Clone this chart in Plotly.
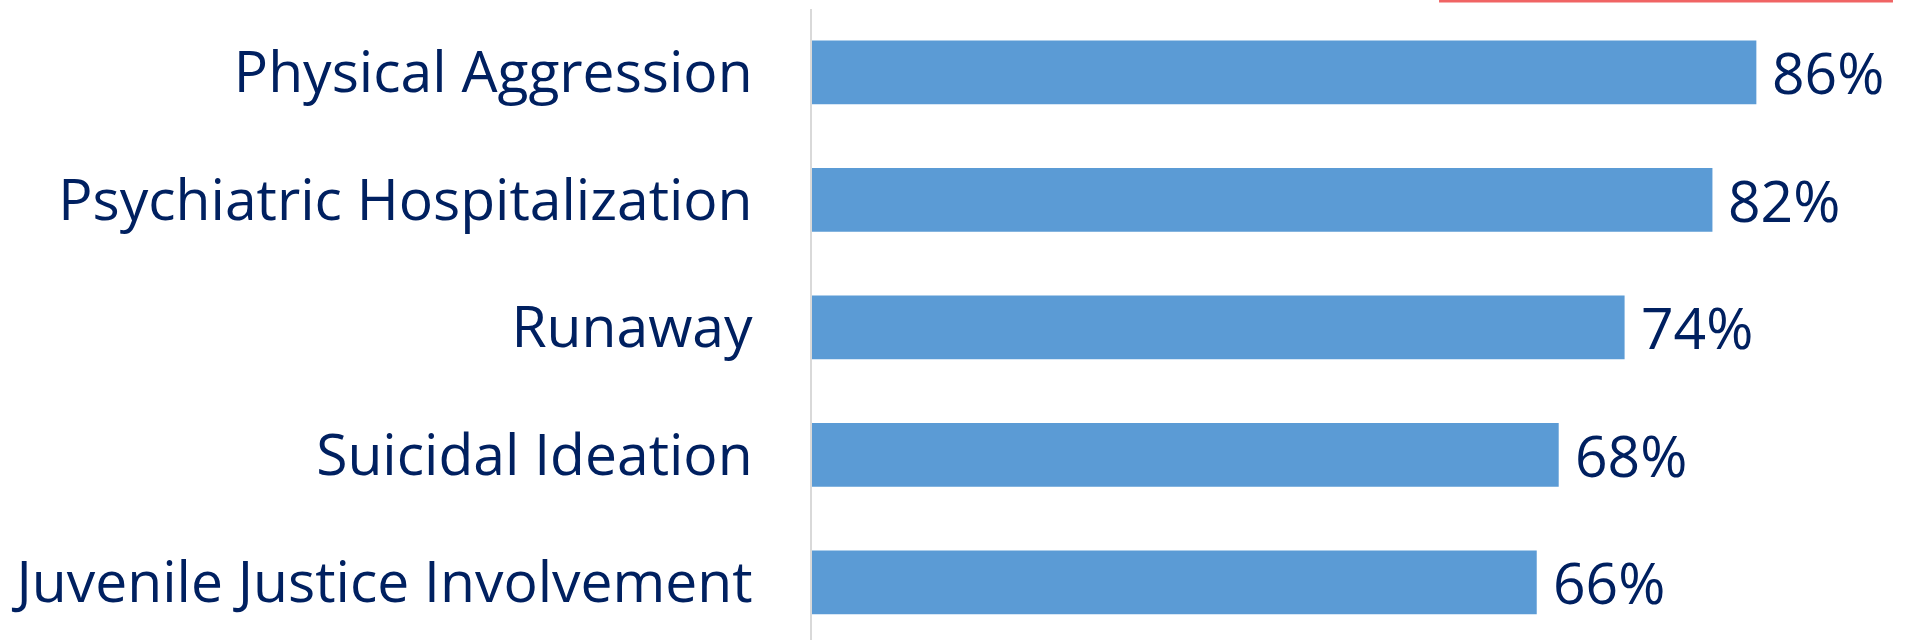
import plotly.graph_objects as go

categories = ["Physical Aggression", "Psychiatric Hospitalization", "Runaway",
              "Suicidal Ideation", "Juvenile Justice Involvement"]
values = [86, 82, 74, 68, 66]

W, H = 1909, 640
L, T, R, B = 812, 9, 0, 0
FONT = "Open Sans"
NAVY = "#002060"

fig = go.Figure()
fig.add_trace(go.Bar(
    x=values, y=categories, orientation="h",
    marker=dict(color="#5B9BD5", line=dict(width=0)),
    hoverinfo="skip",
))

for c, v in zip(categories, values):
    fig.add_annotation(x=v, y=c, xref="x", yref="y", text=f"{v}%",
                       showarrow=False, xanchor="left", yanchor="middle",
                       xshift=14, font=dict(family=FONT, size=57, color=NAVY))

fig.add_shape(type="line", xref="paper", yref="paper",
              x0=0.5716, x1=0.9854, y0=1.0127, y1=1.0127,
              line=dict(color="#F06464", width=3))

fig.update_layout(
    width=W, height=H,
    margin=dict(l=L, r=R, t=T, b=B, pad=0, autoexpand=False),
    plot_bgcolor="white", paper_bgcolor="white",
    bargap=0.5, showlegend=False,
    xaxis=dict(range=[0, 99.9], visible=False, fixedrange=True, automargin=False),
    yaxis=dict(range=[4.451, -0.496], showline=True, linecolor="#D9D9D9",
               linewidth=2, showgrid=False, zeroline=False, ticks="",
               automargin=False, ticklabelstandoff=46,
               tickfont=dict(family=FONT, size=57, color=NAVY)),
)

fig.write_html("out.html", config={"displayModeBar": False},
               post_script="document.body.style.margin='0';document.body.style.overflow='hidden';")
